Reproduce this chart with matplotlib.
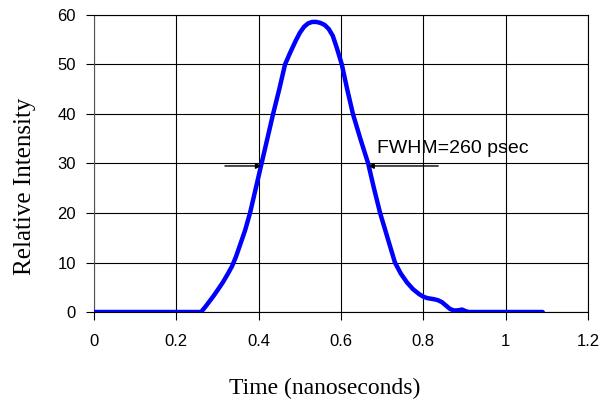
import matplotlib
matplotlib.use("Agg")
import matplotlib.pyplot as plt

# Data
time_ns = [0.0, 0.1, 0.2, 0.26, 0.27, 0.28, 0.29, 0.30, 0.313, 0.325, 0.335,
           0.345, 0.355, 0.367, 0.379, 0.393, 0.407, 0.421, 0.435, 0.45, 0.464,
           0.476, 0.49, 0.50, 0.51, 0.52, 0.53, 0.54, 0.55, 0.56, 0.57, 0.58,
           0.59, 0.602, 0.615, 0.629, 0.647, 0.666, 0.68, 0.695, 0.713, 0.731,
           0.745, 0.76, 0.775, 0.79, 0.80, 0.81, 0.825, 0.835, 0.845, 0.855,
           0.865, 0.875, 0.885, 0.894, 0.902, 0.91, 1.0, 1.09]
intensity = [0, 0, 0, 0, 1.0, 2.1, 3.2, 4.4, 6.0, 7.7, 9.2,
             11.2, 13.6, 16.5, 20, 25, 30, 35, 40, 45, 50,
             52.3, 54.8, 56.4, 57.6, 58.3, 58.6, 58.6, 58.4, 58.0, 57.2, 55.8,
             53.3, 50, 45, 40, 35, 30, 25, 20, 15, 10,
             7.8, 6.0, 4.6, 3.6, 3.1, 2.8, 2.6, 2.4, 2.0, 1.3,
             0.6, 0.3, 0.35, 0.5, 0.2, 0, 0, 0]
x_ticks = [0, 0.2, 0.4, 0.6, 0.8, 1.0, 1.2]
x_tick_labels = ["0", "0.2", "0.4", "0.6", "0.8", "1", "1.2"]
y_ticks = [0, 10, 20, 30, 40, 50, 60]
fwhm_level = 30
fwhm_left = 0.407
fwhm_right = 0.666
arrow_left_start = 0.318
arrow_right_start = 0.836
annotation = "FWHM=260 psec"

fig = plt.figure(figsize=(6.05, 4.04), dpi=100)
ax = fig.add_axes([0.1554, 0.2277, 0.9719 - 0.1554, 0.9629 - 0.2277])

ax.plot(time_ns, intensity, color="#0000FF", lw=3.2, solid_capstyle="round",
        solid_joinstyle="round", zorder=3)

ax.set_xlim(0, 1.2)
ax.set_ylim(0, 60)
ax.set_xticks(x_ticks)
ax.set_xticklabels(x_tick_labels)
ax.set_yticks(y_ticks)
ax.grid(True, color="black", lw=0.8)
for s in ax.spines.values():
    s.set_color("black")
    s.set_linewidth(0.8)
ax.spines["left"].set_color("#555555")

ax.tick_params(axis="both", direction="out", length=6, width=0.8,
               labelsize=12, colors="black")
ax.tick_params(axis="x", pad=10)
ax.tick_params(axis="y", pad=7)
for lab in ax.get_xticklabels() + ax.get_yticklabels():
    lab.set_family("Liberation Sans")

ax.set_xlabel("Time (nanoseconds)", family="Liberation Serif", fontsize=17)
ax.set_ylabel("Relative Intensity", family="Liberation Serif", fontsize=18)
ax.xaxis.set_label_coords(0.4666, -0.222)
ax.yaxis.set_label_coords(-0.1174, 0.424)

# FWHM arrows
yline = fwhm_level - 0.5
ax.annotate("", xy=(fwhm_left, yline), xytext=(arrow_left_start, yline),
            arrowprops=dict(arrowstyle="-|>", color="black", lw=1.0,
                            mutation_scale=8, shrinkA=0, shrinkB=0), zorder=4)
ax.annotate("", xy=(fwhm_right, yline), xytext=(arrow_right_start, yline),
            arrowprops=dict(arrowstyle="-|>", color="black", lw=1.0,
                            mutation_scale=8, shrinkA=0, shrinkB=0), zorder=4)
ax.text(0.687, 32.1, annotation, family="Liberation Sans", fontsize=14,
        ha="left", va="baseline")

fig.savefig("out.png", dpi=100)
